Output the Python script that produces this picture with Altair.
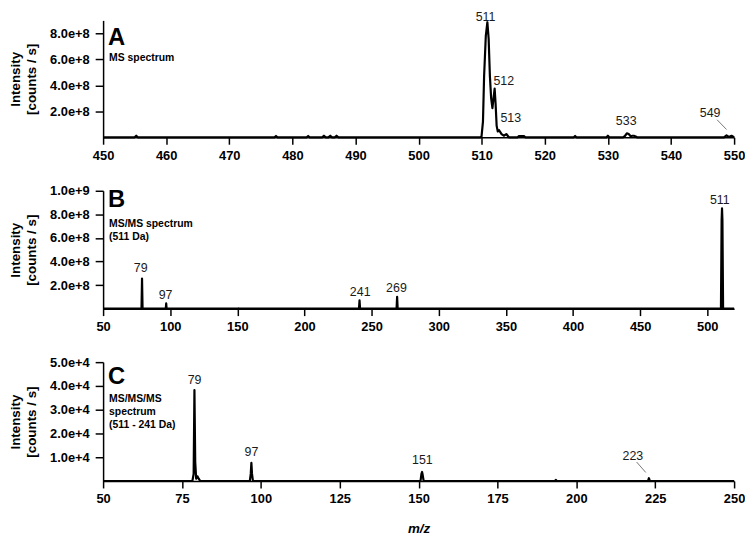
import altair as alt
import pandas as pd

FONT = "Liberation Sans"

# ---------------- Panel A : MS spectrum ----------------
mz_a = [450, 455.0, 455.25, 455.5, 477.15, 477.4, 477.65, 482.25, 482.5, 482.75,
        484.7, 485.0, 485.3, 485.7, 486.0, 486.3, 486.7, 487.0, 487.3,
        509.8, 509.97, 510.2, 510.38, 510.65, 510.9, 511.1, 511.3, 511.5, 511.7,
        511.85, 512.05, 512.2, 512.37, 512.55, 512.74, 512.95, 513.15, 513.5, 513.9,
        514.3, 515.7, 515.9, 516.7, 516.9, 524.6, 524.8, 525.0, 529.8, 530.0, 530.2,
        532.4, 532.7, 533.0, 533.3, 533.6, 533.9, 534.1, 534.4, 534.6,
        548.4, 548.8, 549.1, 549.4, 549.6, 549.85, 550]
int_a = [0, 0, 0.12e8, 0, 0, 0.1e8, 0, 0, 0.1e8, 0,
         0, 0.12e8, 0, 0, 0.12e8, 0, 0, 0.12e8, 0,
         0, 0.05e8, 1.2e8, 4.7e8, 7.8e8, 8.86e8, 7.6e8, 4.7e8, 3.0e8, 2.25e8,
         2.9e8, 3.75e8, 2.6e8, 0.88e8, 0.45e8, 0.55e8, 0.4e8, 0.25e8, 0.12e8, 0.25e8,
         0, 0, 0.1e8, 0.1e8, 0, 0, 0.1e8, 0, 0, 0.12e8, 0,
         0, 0.1e8, 0.3e8, 0.25e8, 0.08e8, 0.12e8, 0.12e8, 0.06e8, 0,
         0, 0.15e8, 0.05e8, 0.08e8, 0.12e8, 0.05e8, 0]
lab_a_text = ["511", "512", "513", "533", "549"]
lab_a_x = [510.6, 513.5, 514.6, 532.9, 546.2]
lab_a_y = [9.25e8, 4.34e8, 1.5e8, 1.27e8, 1.87e8]
lead_a = {"mz": [547.3], "mz2": [548.8], "i": [1.35e8], "i2": [0.6e8]}

# ---------------- Panel B : MS/MS spectrum ----------------
mz_b = [50, 78.6, 79.0, 79.4, 96.7, 97.0, 97.3, 150.7, 151.0, 151.3,
        240.6, 241.0, 241.4, 268.6, 269.0, 269.4,
        510.2, 510.7, 511.0, 511.3, 511.8, 520]
int_b = [0, 0, 2.55e8, 0, 0, 0.45e8, 0, 0, 0.03e8, 0,
         0, 0.7e8, 0, 0, 1.0e8, 0,
         0, 7.5e8, 8.5e8, 7.5e8, 0, 0]
lab_b_text = ["79", "97", "241", "269", "511"]
lab_b_x = [78.0, 96.5, 241.5, 268.5, 509.3]
lab_b_y = [3.45e8, 1.16e8, 1.38e8, 1.76e8, 9.23e8]

# ---------------- Panel C : MS/MS/MS spectrum ----------------
mz_c = [50, 78.3, 78.7, 78.95, 79.2, 79.5, 79.9, 80.3, 80.8,
        96.5, 96.8, 97.0, 97.2, 97.5,
        150.6, 150.9, 151.1, 151.3, 151.6,
        193.2, 193.5, 193.8, 222.7, 223.0, 223.3, 250]
int_c = [0, 0, 0.3e4, 3.83e4, 0.8e4, 0.1e4, 0.2e4, 0.1e4, 0,
         0, 0.3e4, 0.77e4, 0.3e4, 0,
         0, 0.3e4, 0.38e4, 0.25e4, 0,
         0, 0.05e4, 0, 0, 0.12e4, 0, 0]
lab_c_text = ["79", "97", "151", "223"]
lab_c_x = [79.0, 97.0, 151.2, 217.9]
lab_c_y = [4.26e4, 1.21e4, 0.87e4, 1.05e4]
lead_c = {"mz": [219.1], "mz2": [222.0], "i": [0.8e4], "i2": [0.36e4]}

W = 637


def panel(mz, inten, lab_text, lab_x, lab_y, xdom, xticks, ydom, yticks, h,
          letter, sub_lines, letter_y, sub_y, xtitle=None, leader=None):
    xaxis = alt.Axis(values=xticks, labelFont=FONT, labelFontWeight="bold",
                     labelFontSize=13, labelColor="black", tickColor="black",
                     domainColor="black", domainWidth=1.5, tickWidth=1.5,
                     tickSize=7, labelPadding=5, grid=False, labelFlush=False,
                     labelOverlap=False, title=xtitle, titleFont=FONT,
                     titleFontSize=13.5, titleFontWeight="bold",
                     titleFontStyle="italic", titleColor="black", titlePadding=16)
    yaxis = alt.Axis(values=yticks, format=".1e", labelFont=FONT,
                     labelFontWeight="bold", labelFontSize=13, labelColor="black",
                     tickColor="black", domainColor="black", domainWidth=1.5,
                     tickWidth=1.5, tickSize=8, labelPadding=6, grid=False,
                     labelOverlap=False, labelFlush=False,
                     title=["Intensity", "[counts / s]"], titleFont=FONT,
                     titleFontSize=13.5, titleFontWeight="bold", titleColor="black",
                     titlePadding=11, titleLineHeight=16)
    xs = alt.Scale(domain=xdom, nice=False, zero=False)
    ys = alt.Scale(domain=ydom, nice=False)

    df = pd.DataFrame({"mz": mz, "i": inten})
    line = alt.Chart(df).mark_line(color="black", strokeWidth=2.2,
                                   strokeJoin="round").encode(
        x=alt.X("mz:Q", scale=xs, axis=xaxis),
        y=alt.Y("i:Q", scale=ys, axis=yaxis),
    )
    ldf = pd.DataFrame({"mz": lab_x, "i": lab_y, "t": lab_text})
    labels = alt.Chart(ldf).mark_text(font=FONT, fontSize=12.5, color="#1a1a1a",
                                      baseline="middle", align="center").encode(
        x=alt.X("mz:Q", scale=xs, axis=xaxis),
        y=alt.Y("i:Q", scale=ys, axis=yaxis),
        text="t:N")
    layers = [line, labels]
    if leader is not None:
        lead = alt.Chart(pd.DataFrame(leader)).mark_rule(
            color="#555555", strokeWidth=0.8).encode(
            x=alt.X("mz:Q", scale=xs, axis=xaxis), x2="mz2:Q",
            y=alt.Y("i:Q", scale=ys, axis=yaxis), y2="i2:Q")
        layers.append(lead)
    let = alt.Chart(pd.DataFrame({"t": [letter]})).mark_text(
        font=FONT, fontSize=24, fontWeight="bold", align="left",
        baseline="middle", color="black").encode(
        x=alt.value(5), y=alt.value(letter_y), text="t:N")
    sub = alt.Chart(pd.DataFrame({"t": [0]})).mark_text(
        font=FONT, fontSize=10.5, fontWeight="bold", align="left",
        baseline="middle", color="black", text=sub_lines, lineHeight=13.4).encode(
        x=alt.value(6), y=alt.value(sub_y))
    layers += [let, sub]
    return alt.layer(*layers).properties(width=W, height=h)


pA = panel(mz_a, int_a, lab_a_text, lab_a_x, lab_a_y, [450, 550],
           list(range(450, 551, 10)), [0, 9e8], [2e8, 4e8, 6e8, 8e8], 118,
           "A", ["MS spectrum"], 18, 38, leader=lead_a)
pB = panel(mz_b, int_b, lab_b_text, lab_b_x, lab_b_y, [50, 520],
           list(range(50, 501, 50)), [0, 1e9], [2e8, 4e8, 6e8, 8e8, 1e9], 119,
           "B", ["MS/MS spectrum", "(511 Da)"], 9, 33.7)
pC = panel(mz_c, int_c, lab_c_text, lab_c_x, lab_c_y, [50, 250],
           list(range(50, 251, 25)), [0, 5e4], [1e4, 2e4, 3e4, 4e4, 5e4], 120,
           "C", ["MS/MS/MS", "spectrum", "(511 - 241 Da)"], 15, 37,
           xtitle="m/z", leader=lead_c)

chart = alt.vconcat(pA, pB, pC, spacing=23).properties(
    padding={"left": 0, "top": 0, "right": 0, "bottom": 0}
).configure_view(stroke=None).configure_axis(labelOverlap=False)

chart.save("out.html", embed_options={"renderer": "svg", "actions": False})
